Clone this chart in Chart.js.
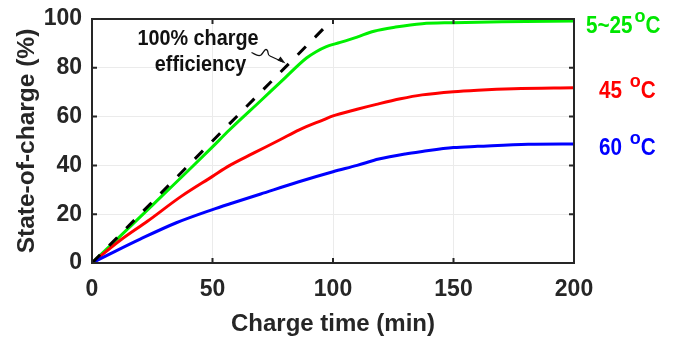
<!DOCTYPE html>
<html><head><meta charset="utf-8">
<script src="https://cdn.jsdelivr.net/npm/chart.js@4/dist/chart.umd.min.js"></script>
<style>html,body{margin:0;padding:0;background:#fff}#wrap{width:675px;height:339px}</style>
</head><body><div id="wrap"><canvas id="c" width="675" height="339"></canvas></div>
<script>
const timeGreen = [0,10,20,30,40,50,57,70,80,89,93,97,103,110,117,126,137,150,170,200];
const socGreen  = [0,9.4,18.9,28.4,37.9,47.6,54.5,66.5,75.8,84,86.6,88.6,90.4,92.6,95,96.7,98.1,98.5,98.9,99.2];
const timeRed = [0,12,23,37,50,57,67,78,86,96,100,110,118,128,137,150,160,175,200];
const socRed  = [0,9.5,17.1,27.3,35.5,39.9,45,50.5,54.6,58.7,60.3,63,65,67.3,68.9,70.2,70.8,71.4,71.8];
const timeBlue = [0,10,20,35,50,57,70,85.5,100,110,119,130,137,150,160,181,200];
const socBlue  = [0,5,9.8,16.5,21.9,24.2,28.3,33.2,37.4,40,42.6,44.7,45.7,47.3,47.8,48.7,48.8];
const timeIdeal = [0,100];
const socIdeal  = [0,100];
const xTicks = [0,50,100,150,200];
const yTicks = [0,20,40,60,80,100];
const seriesLabels = ['5~25','45','60'];

const pts = (xs, ys) => xs.map((x,i)=>({x, y: ys[i]}));
const FONT = '"Liberation Sans", Arial, sans-serif';
const NARROW = '"Liberation Sans Narrow", "Liberation Sans", sans-serif';
const AX = '#262626';

function sText(ctx, txt, x, y, size, sx, align) {
  ctx.save();
  ctx.font = 'bold ' + size + 'px ' + FONT;
  ctx.translate(x, y); ctx.scale(sx, 1);
  ctx.textAlign = align || 'left'; ctx.textBaseline = 'alphabetic';
  ctx.fillText(txt, 0, 0);
  const w = ctx.measureText(txt).width * sx;
  ctx.restore();
  return w;
}

const deco = {
  id: 'deco',
  afterDraw(chart) {
    const {ctx, chartArea: a, scales: {x, y}} = chart;
    ctx.save();
    ctx.strokeStyle = AX; ctx.lineWidth = 2;
    ctx.beginPath();
    xTicks.forEach(v => { const px = x.getPixelForValue(v);
      ctx.moveTo(px, a.bottom); ctx.lineTo(px, a.bottom-5);
      ctx.moveTo(px, a.top); ctx.lineTo(px, a.top+5); });
    yTicks.forEach(v => { const py = y.getPixelForValue(v);
      ctx.moveTo(a.left, py); ctx.lineTo(a.left+5, py);
      ctx.moveTo(a.right, py); ctx.lineTo(a.right-5, py); });
    ctx.stroke();
    ctx.strokeRect(a.left, a.top, a.right-a.left, a.bottom-a.top);
    // annotation text
    ctx.fillStyle = '#111';
    sText(ctx, '100% charge', 198, 45, 22, 0.9, 'center');
    sText(ctx, 'efficiency', 200.5, 71, 22, 0.9, 'center');
    // squiggle arrow
    ctx.strokeStyle = '#111'; ctx.lineWidth = 1.3;
    ctx.beginPath();
    ctx.moveTo(251.5, 52.5);
    ctx.bezierCurveTo(255, 54, 258, 57, 261, 55);
    ctx.bezierCurveTo(264, 52, 265, 48, 267, 50);
    ctx.bezierCurveTo(269, 52, 267, 55, 270, 56);
    ctx.lineTo(283, 62);
    ctx.stroke();
    ctx.beginPath();
    ctx.moveTo(285.5, 63.5); ctx.lineTo(277.5, 60.5); ctx.lineTo(280.5, 56.5); ctx.closePath();
    ctx.fillStyle = '#111'; ctx.fill();
    // series labels
    const lab = (txt, x0, yb, col) => {
      ctx.fillStyle = col;
      const w = sText(ctx, txt, x0, yb, 23.5, 0.88, 'left');
      const wo = sText(ctx, 'o', x0 + w + 2, yb - 11, 18, 1, 'left');
      sText(ctx, 'C', x0 + w + wo + 2, yb, 23.5, 0.88, 'left');
    };
    lab(seriesLabels[0], 586, 33, '#00e600');
    lab(seriesLabels[1] + ' ', 599, 98, '#ff0000');
    lab(seriesLabels[2] + ' ', 599, 154.5, '#0000ff');
    ctx.restore();
  }
};

const common = { pointRadius: 0, borderWidth: 3, cubicInterpolationMode: 'monotone' };
new Chart(document.getElementById('c'), {
  type: 'line',
  data: { datasets: [
    { data: pts(timeIdeal, socIdeal), borderColor: '#000', borderWidth: 3, borderDash: [11.5, 12.9], pointRadius: 0 },
    Object.assign({ data: pts(timeBlue, socBlue), borderColor: '#0000ff' }, common),
    Object.assign({ data: pts(timeRed, socRed), borderColor: '#ff0000' }, common),
    Object.assign({ data: pts(timeGreen, socGreen), borderColor: '#00f000' }, common),
  ]},
  options: {
    responsive: false, animation: false, devicePixelRatio: 1,
    layout: { padding: { top: 19, right: 101, left: 0, bottom: 0 } },
    plugins: { legend: { display: false }, tooltip: { enabled: false } },
    scales: {
      x: { type: 'linear', min: 0, max: 200,
        afterBuildTicks: s => { s.ticks = xTicks.map(v => ({value: v})); },
        afterFit: s => { s.height = 76; s.paddingLeft = 0; s.paddingRight = 0; },
        grid: { color: '#ebebeb', lineWidth: 1, drawTicks: false },
        border: { display: false },
        ticks: { padding: 13, color: AX, font: { family: NARROW, size: 23, weight: 'bold' }, maxRotation: 0 },
        title: { display: true, text: 'Charge time (min)', color: AX, padding: { top: 0, bottom: 0 }, font: { family: FONT, size: 24, weight: 'bold' } } },
      y: { min: 0, max: 100,
        afterBuildTicks: s => { s.ticks = yTicks.map(v => ({value: v})); },
        afterFit: s => { s.width = 92; s.paddingTop = 0; s.paddingBottom = 0; },
        grid: { color: '#ebebeb', lineWidth: 1, drawTicks: false },
        border: { display: false },
        ticks: { padding: 10, color: AX, font: { family: NARROW, size: 23, weight: 'bold' } },
        title: { display: true, text: 'State-of-charge (%)', color: AX, padding: { top: 13, bottom: 0 }, font: { family: FONT, size: 24.5, weight: 'bold' } } }
    }
  },
  plugins: [deco]
});
</script></body></html>
